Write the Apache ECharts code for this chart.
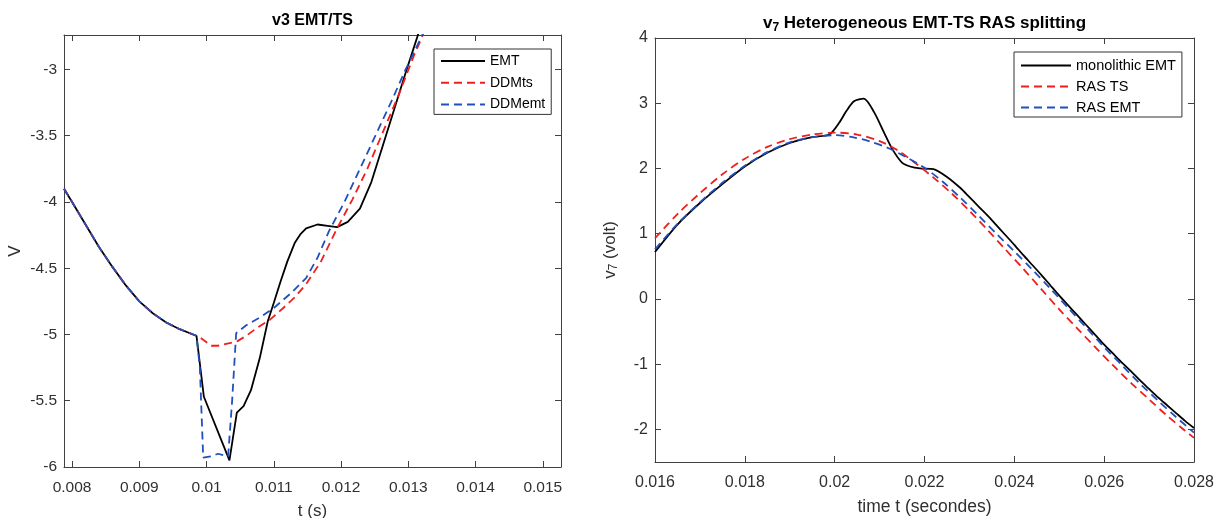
<!DOCTYPE html>
<html><head><meta charset="utf-8">
<script src="https://cdn.jsdelivr.net/npm/echarts@6/dist/echarts.min.js"></script>
<style>html,body{margin:0;padding:0;background:#fff}#c{width:1224px;height:518px}</style>
</head><body><div id="c"></div>
<script>
const FONT = '"Liberation Sans", Arial, Helvetica, sans-serif';
const TXT = '#303030';
const AX = '#404040';

// ---------- Left chart: v3 EMT/TS ----------
const leftXTicks = [0.008, 0.009, 0.010, 0.011, 0.012, 0.013, 0.014, 0.015];
const leftYTicks = [-6, -5.5, -5, -4.5, -4, -3.5, -3];

const emtT = [0.00788, 0.0080, 0.0082, 0.0084, 0.0086, 0.0088, 0.0090, 0.0092, 0.0094, 0.0096, 0.0098, 0.00985,
  0.00996, 0.01034, 0.01045, 0.01055, 0.01066, 0.01079, 0.01091, 0.0110, 0.0111, 0.0112, 0.01131, 0.0114, 0.01148,
  0.01165, 0.0118, 0.01194, 0.0121, 0.01228, 0.01245, 0.01262, 0.01279, 0.01296, 0.01313, 0.0133];
const emtV = [-3.90, -4.00, -4.17, -4.34, -4.49, -4.63, -4.75, -4.84, -4.91, -4.96, -5.00, -5.01,
  -5.47, -5.95, -5.59, -5.54, -5.42, -5.18, -4.90, -4.76, -4.60, -4.45, -4.31, -4.24, -4.20,
  -4.17, -4.18, -4.19, -4.15, -4.05, -3.85, -3.575, -3.30, -3.025, -2.76, -2.49];

const ddmTsT = [0.00788, 0.0080, 0.0082, 0.0084, 0.0086, 0.0088, 0.0090, 0.0092, 0.0094, 0.0096, 0.0098, 0.00985,
  0.0099, 0.00995, 0.01007, 0.01017, 0.01034, 0.01046, 0.01059, 0.01075, 0.01094, 0.01114, 0.01131, 0.01148,
  0.0117, 0.01194, 0.01217, 0.01239, 0.01262, 0.01285, 0.01308, 0.01325, 0.0134];
const ddmTsV = [-3.90, -4.00, -4.17, -4.34, -4.49, -4.63, -4.75, -4.84, -4.91, -4.96, -5.00, -5.01,
  -5.02, -5.04, -5.085, -5.085, -5.065, -5.05, -5.01, -4.95, -4.89, -4.80, -4.72, -4.62,
  -4.45, -4.20, -3.98, -3.75, -3.475, -3.2, -2.90, -2.70, -2.50];

const ddmEmtT = [0.00788, 0.0080, 0.0082, 0.0084, 0.0086, 0.0088, 0.0090, 0.0092, 0.0094, 0.0096, 0.0098, 0.00985,
  0.0099, 0.00995, 0.01007, 0.01017, 0.01032, 0.01038, 0.01044, 0.01059, 0.0108, 0.0110, 0.01125, 0.01148,
  0.01165, 0.01182, 0.01205, 0.01228, 0.01251, 0.01274, 0.01296, 0.01319, 0.0134];
const ddmEmtV = [-3.90, -4.00, -4.17, -4.34, -4.49, -4.63, -4.75, -4.84, -4.91, -4.96, -5.00, -5.01,
  -5.25, -5.93, -5.92, -5.90, -5.92, -5.50, -4.99, -4.93, -4.87, -4.80, -4.69, -4.575,
  -4.42, -4.22, -4.00, -3.75, -3.50, -3.25, -3.00, -2.76, -2.52];

// ---------- Right chart: v7 Heterogeneous EMT-TS RAS splitting ----------
const rightXTicks = [0.016, 0.018, 0.020, 0.022, 0.024, 0.026, 0.028];
const rightYTicks = [-2, -1, 0, 1, 2, 3, 4];

const monoT = [0.0160, 0.0165, 0.0170, 0.0175, 0.0180, 0.0185, 0.0190, 0.0195, 0.01988, 0.0201, 0.02026, 0.02043,
  0.02065, 0.02088, 0.0211, 0.02128, 0.0215, 0.02168, 0.0219, 0.0222, 0.0225, 0.0228, 0.0230, 0.0232, 0.0234,
  0.0236, 0.0238, 0.0240, 0.0242, 0.0244, 0.0246, 0.0248, 0.0250, 0.0252, 0.0254, 0.0256, 0.0258, 0.0260,
  0.0262, 0.0264, 0.0266, 0.0268, 0.0270, 0.0272, 0.0274, 0.0276, 0.0278, 0.0280];
const monoV = [0.72, 1.14, 1.47, 1.76, 2.03, 2.24, 2.39, 2.48, 2.52, 2.70, 2.88, 3.03,
  3.07, 2.86, 2.55, 2.30, 2.09, 2.03, 2.00, 1.99, 1.87, 1.70, 1.56, 1.42, 1.28,
  1.13, 0.98, 0.83, 0.67, 0.52, 0.37, 0.21, 0.05, -0.10, -0.25, -0.40, -0.55, -0.70,
  -0.84, -0.98, -1.11, -1.25, -1.38, -1.51, -1.63, -1.75, -1.87, -1.98];

const rasTsT = [0.0160, 0.0165, 0.0170, 0.0175, 0.0180, 0.0185, 0.0190, 0.0195, 0.0200, 0.0205, 0.0210, 0.0214,
  0.0218, 0.0222, 0.0226, 0.0230, 0.0234, 0.0238, 0.0242, 0.0246, 0.0250, 0.0254, 0.0258, 0.0262, 0.0266,
  0.0270, 0.0274, 0.0278, 0.0280];
const rasTsV = [0.93, 1.30, 1.62, 1.91, 2.15, 2.33, 2.45, 2.52, 2.55, 2.52, 2.42, 2.28,
  2.08, 1.86, 1.62, 1.35, 1.06, 0.76, 0.46, 0.15, -0.16, -0.45, -0.74, -1.02, -1.29,
  -1.54, -1.79, -2.02, -2.13];

const rasEmtT = [0.0160, 0.0165, 0.0170, 0.0175, 0.0180, 0.0185, 0.0190, 0.0195, 0.0200, 0.0204, 0.0208, 0.0212,
  0.0216, 0.0220, 0.0224, 0.0228, 0.0232, 0.0236, 0.0240, 0.0244, 0.0248, 0.0252, 0.0256, 0.0260, 0.0264,
  0.0268, 0.0272, 0.0276, 0.0280];
const rasEmtV = [0.76, 1.15, 1.48, 1.78, 2.04, 2.25, 2.40, 2.48, 2.51, 2.48, 2.41, 2.31,
  2.17, 2.01, 1.80, 1.55, 1.28, 1.00, 0.73, 0.45, 0.16, -0.14, -0.44, -0.74, -1.02,
  -1.30, -1.56, -1.81, -2.05];

const zip = (a, b) => a.map((x, i) => [x, b[i]]);

const lineStyleAx = { color: AX, width: 1 };
function xAx(grid, min, max, ticks, pos, name, fs, nameFs, margin, nameGap) {
  const main = pos === 'bottom';
  return {
    gridIndex: grid, type: 'value', min, max, position: pos,
    axisLine: { show: true, onZero: false, lineStyle: lineStyleAx },
    axisTick: { show: true, inside: true, length: 6, customValues: ticks, lineStyle: lineStyleAx },
    axisLabel: { show: main, customValues: ticks, fontSize: fs, color: TXT, fontFamily: FONT, margin },
    splitLine: { show: false },
    name: main ? name : '', nameLocation: 'middle', nameGap,
    nameTextStyle: { fontSize: nameFs, color: TXT, fontFamily: FONT }
  };
}
function yAx(grid, min, max, ticks, pos, name, fs, nameFs, gap, rich) {
  const main = pos === 'left';
  const o = {
    gridIndex: grid, type: 'value', min, max, position: pos,
    axisLine: { show: true, onZero: false, lineStyle: lineStyleAx },
    axisTick: { show: true, inside: true, length: 6, customValues: ticks, lineStyle: lineStyleAx },
    axisLabel: { show: main, customValues: ticks, fontSize: fs, color: TXT, fontFamily: FONT, margin: 7 },
    splitLine: { show: false },
    name: main ? name : '', nameLocation: 'middle', nameGap: gap,
    nameTextStyle: { fontSize: nameFs, color: TXT, fontFamily: FONT }
  };
  if (rich) o.nameTextStyle.rich = rich;
  return o;
}

const RED = '#f01e1e', BLUE = '#2150bd', BLACK = '#000000';
const DASH = [8, 5];
function ser(name, xi, yi, data, color, dashed, smooth) {
  return {
    name, type: 'line', xAxisIndex: xi, yAxisIndex: yi, data, symbol: 'none', showSymbol: false,
    smooth: smooth, animation: false, clip: true,
    lineStyle: { color, width: 1.8, type: dashed ? DASH : 'solid' },
    itemStyle: { color }
  };
}

const subRich = {
  a: { fontSize: 17, fontFamily: FONT, color: TXT },
  b: { fontSize: 12, fontFamily: FONT, color: TXT, padding: [8, 0, 0, 0] }
};

const option = {
  animation: false,
  backgroundColor: '#ffffff',
  grid: [
    { left: 64, top: 35, width: 497, height: 432, containLabel: false, outerBoundsMode: 'none' },
    { left: 655, top: 38, width: 539, height: 424, containLabel: false, outerBoundsMode: 'none' }
  ],
  xAxis: [
    xAx(0, 0.00788, 0.01527, leftXTicks, 'bottom', 't (s)', 15.5, 17, 13, 36),
    xAx(0, 0.00788, 0.01527, leftXTicks, 'top', '', 15.5, 17, 13, 36),
    xAx(1, 0.016, 0.028, rightXTicks, 'bottom', 'time t (secondes)', 16, 17.5, 13, 36),
    xAx(1, 0.016, 0.028, rightXTicks, 'top', '', 16, 17.5, 13, 36)
  ],
  yAxis: [
    yAx(0, -6, -2.74, leftYTicks, 'left', 'V', 15.5, 17, 40),
    yAx(0, -6, -2.74, leftYTicks, 'right', '', 15.5, 17, 40),
    yAx(1, -2.5, 4, rightYTicks, 'left', '{a|v}{b|7}{a| (volt)}', 16, 17.5, 35, subRich),
    yAx(1, -2.5, 4, rightYTicks, 'right', '', 16, 17.5, 35)
  ],
  legend: [
    {
      data: ['EMT', 'DDMts', 'DDMemt'], orient: 'vertical', left: 434, top: 49,
      itemWidth: 44, itemHeight: 14, itemGap: 7.7, padding: [5, 6, 3, 6],
      borderColor: '#333', borderWidth: 1, backgroundColor: '#fff', borderRadius: 0,
      itemStyle: { opacity: 0 },
      textStyle: { fontSize: 14, fontFamily: FONT, color: '#000' }, selectedMode: false, align: 'left'
    },
    {
      data: ['monolithic EMT', 'RAS TS', 'RAS EMT'], orient: 'vertical', left: 1014, top: 52,
      itemWidth: 50, itemHeight: 14, itemGap: 6, padding: [6, 6, 2, 6],
      borderColor: '#333', borderWidth: 1, backgroundColor: '#fff', borderRadius: 0,
      itemStyle: { opacity: 0 },
      textStyle: { fontSize: 14.5, fontFamily: FONT, color: '#000' }, selectedMode: false, align: 'left'
    }
  ],
  graphic: [
    { type: 'text', x: 312.5, y: 21, style: { text: 'v3 EMT/TS', font: 'bold 16px ' + FONT, fill: '#000', align: 'center', verticalAlign: 'middle' } },
    { type: 'text', x: 924.5, y: 23, style: {
        text: '{a|v}{b|7}{a| Heterogeneous EMT-TS RAS splitting}', align: 'center', verticalAlign: 'middle', fill: '#000',
        rich: {
          a: { fontSize: 17, fontWeight: 'bold', fontFamily: FONT, fill: '#000' },
          b: { fontSize: 12, fontWeight: 'bold', fontFamily: FONT, fill: '#000', padding: [9, 0, 0, 0] }
        } } }
  ],
  series: [
    ser('EMT', 0, 0, zip(emtT, emtV), BLACK, false, false),
    ser('DDMts', 0, 0, zip(ddmTsT, ddmTsV), RED, true, false),
    ser('DDMemt', 0, 0, zip(ddmEmtT, ddmEmtV), BLUE, true, false),
    ser('monolithic EMT', 2, 2, zip(monoT, monoV), BLACK, false, 0.25),
    ser('RAS TS', 2, 2, zip(rasTsT, rasTsV), RED, true, 0.3),
    ser('RAS EMT', 2, 2, zip(rasEmtT, rasEmtV), BLUE, true, 0.3)
  ]
};

const chart = echarts.init(document.getElementById('c'), null, { renderer: 'canvas' });
chart.setOption(option);
</script>
</body></html>
